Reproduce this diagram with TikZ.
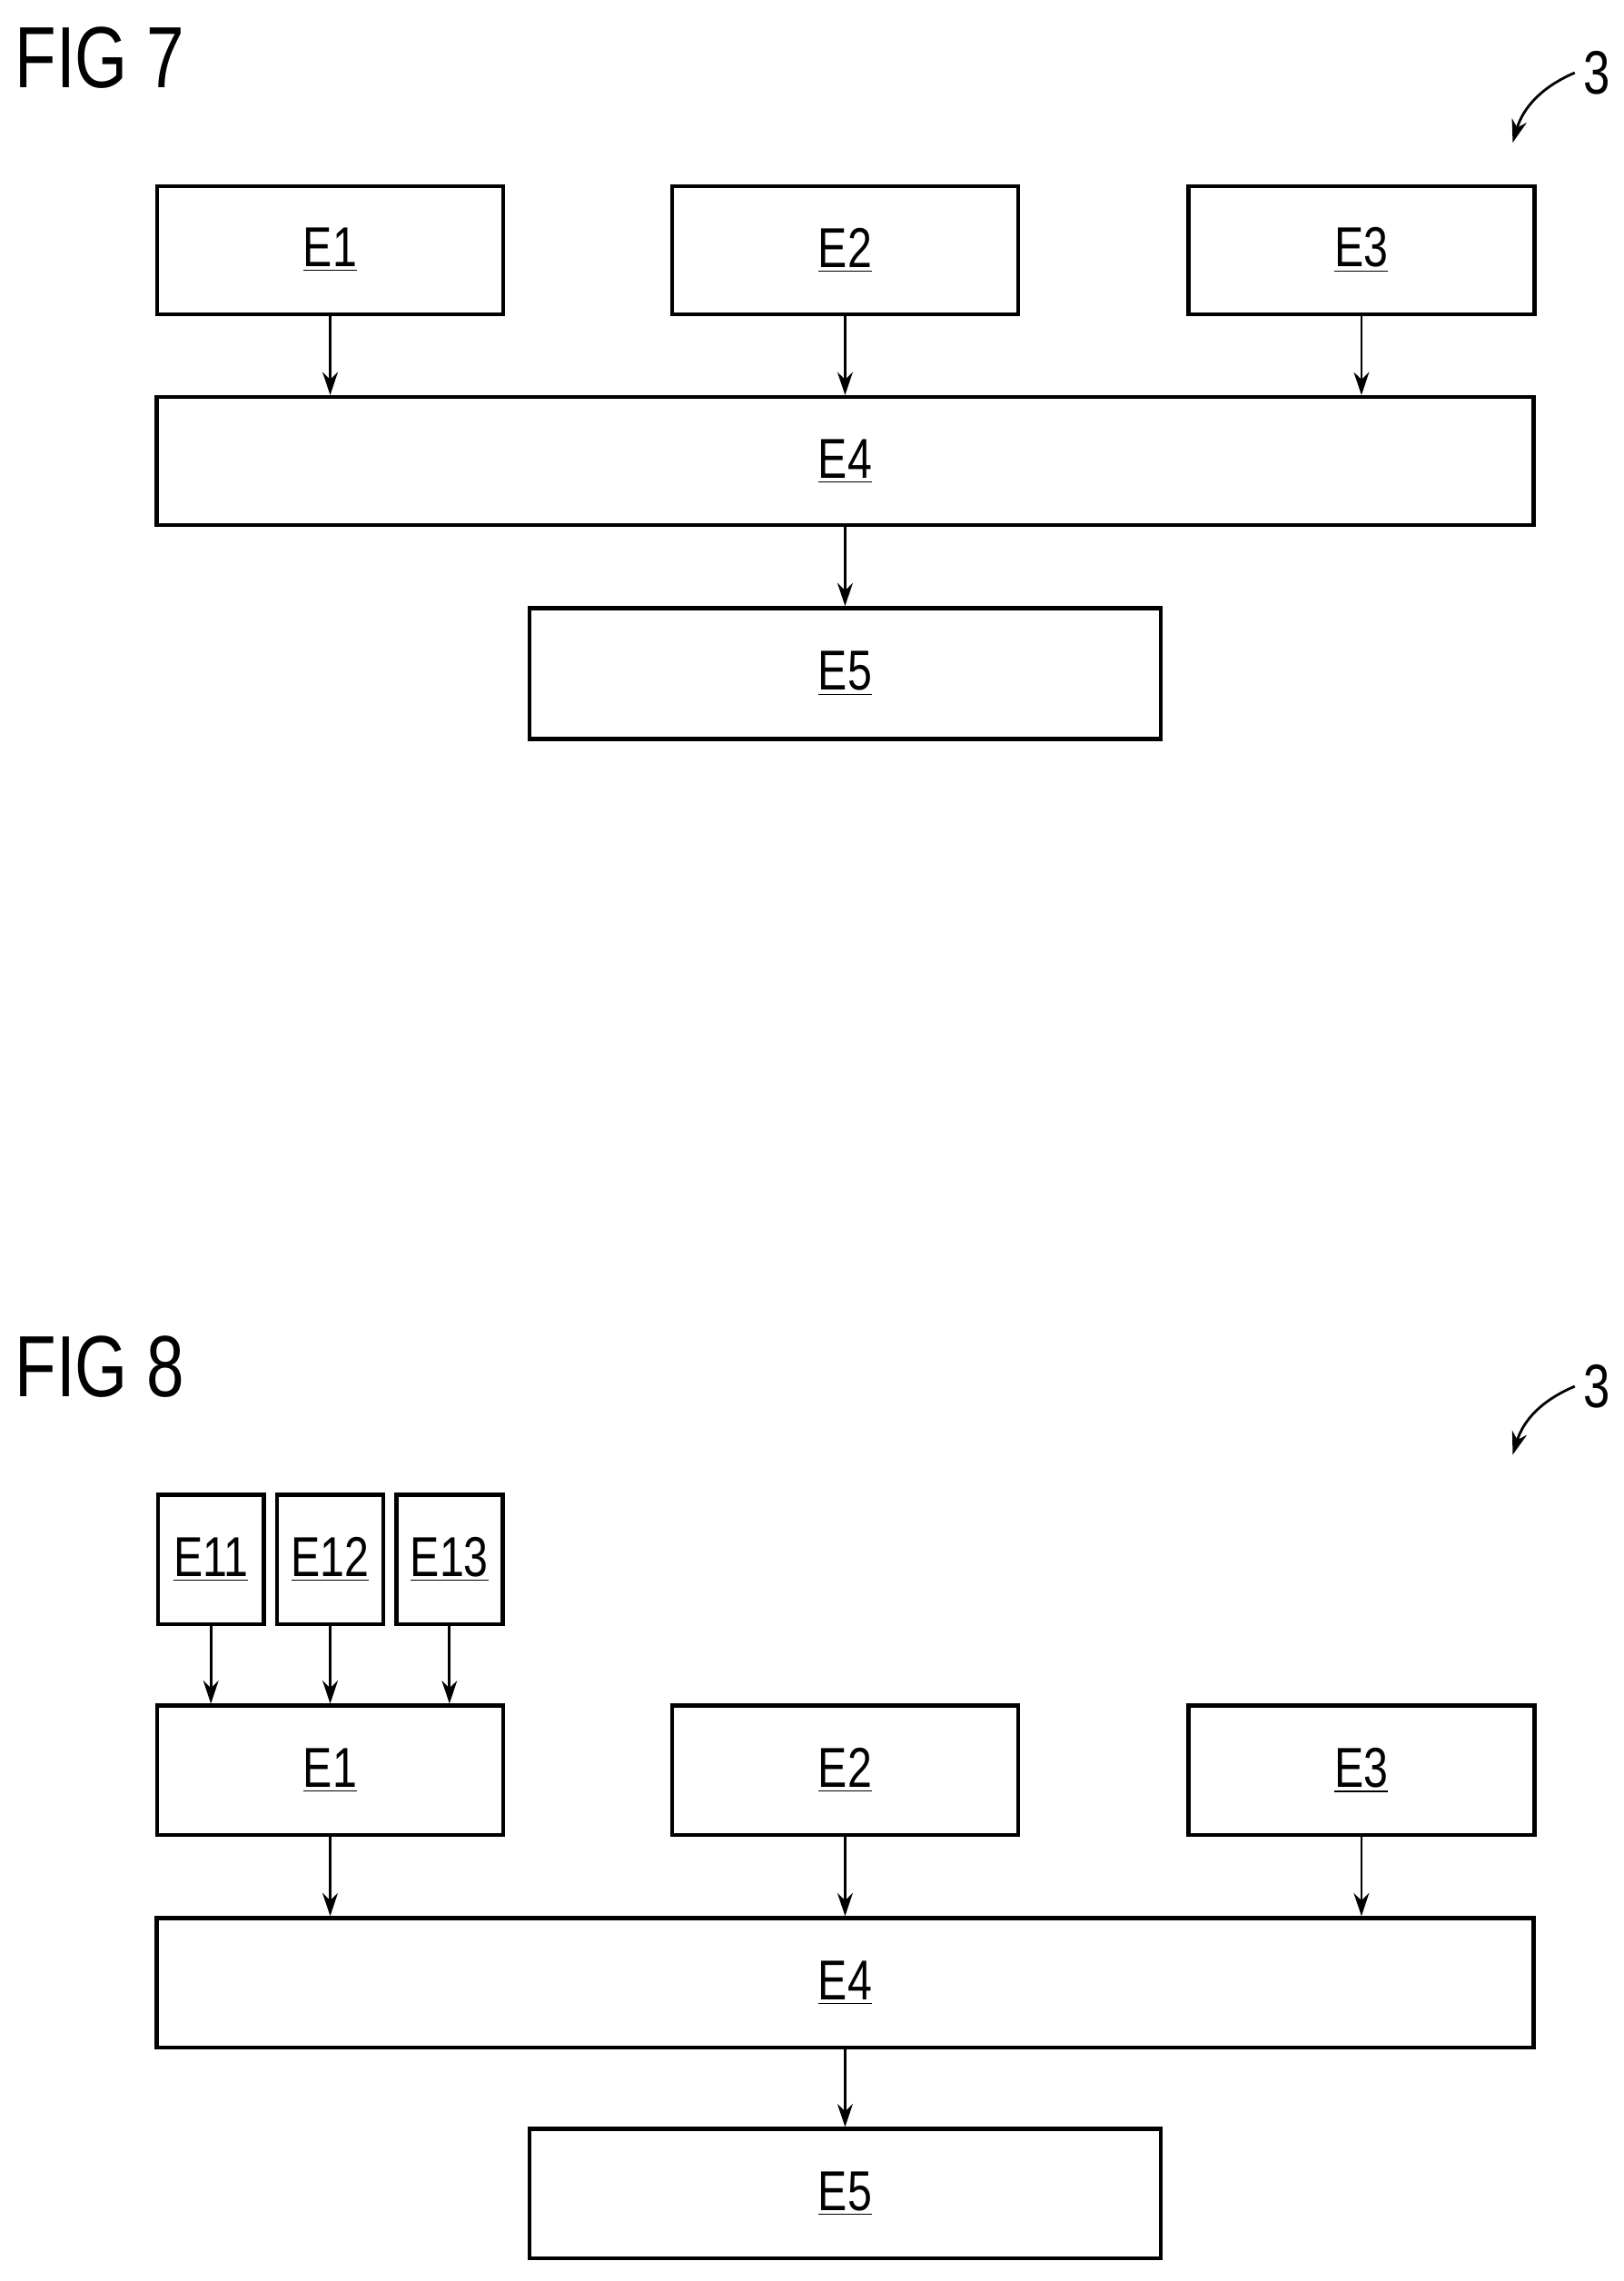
\documentclass[tikz,border=0pt]{standalone}
\usepackage{fontspec}
\setmainfont[FakeStretch=0.78]{Liberation Sans}
\usetikzlibrary{arrows.meta}
\tikzset{
  blk/.style={draw,line width=1.6pt,inner sep=0pt,font=\fontsize{22}{24}\selectfont},
  flow/.style={-{Stealth[length=9pt,width=6pt]},line width=1pt},
  figlbl/.style={anchor=north west,inner sep=0pt,font=\fontsize{34}{36}\selectfont}
}
\begin{document}
\begin{tikzpicture}[x=0.02cm,y=-0.02cm]
\useasboundingbox (0,0) rectangle (1116,1568);
% FIG 7
\node[figlbl] (f7) at (10,18) {FIG 7};
\node[font=\fontsize{24}{26}\selectfont] (r7) at (1098,50) {3};
\draw[flow] (r7.west) to[bend right=25] (1040,98);
\node[blk,minimum width=4.76cm,minimum height=1.76cm] (a1) at (227,172) {\underline{E1}};
\node[blk,minimum width=4.76cm,minimum height=1.76cm] (a2) at (581,172) {\underline{E2}};
\node[blk,minimum width=4.76cm,minimum height=1.76cm] (a3) at (936,172) {\underline{E3}};
\node[blk,minimum width=18.94cm,minimum height=1.76cm] (a4) at (581,317) {\underline{E4}};
\node[blk,minimum width=8.68cm,minimum height=1.8cm] (a5) at (581,463) {\underline{E5}};
\draw[flow] (a1) -- (a1 |- a4.north);
\draw[flow] (a2) -- (a2 |- a4.north);
\draw[flow] (a3) -- (a3 |- a4.north);
\draw[flow] (a4) -- (a5);
% FIG 8
\node[figlbl] (f8) at (10,918) {FIG 8};
\node[font=\fontsize{24}{26}\selectfont] (r8) at (1098,953) {3};
\draw[flow] (r8.west) to[bend right=25] (1040,1000);
\foreach \n/\x in {11/145,12/227,13/309}
  \node[blk,minimum width=1.46cm,minimum height=1.78cm] (b\n) at (\x,1072) {\underline{E\n}};
\node[blk,minimum width=4.76cm,minimum height=1.78cm] (b1) at (227,1217) {\underline{E1}};
\node[blk,minimum width=4.76cm,minimum height=1.78cm] (b2) at (581,1217) {\underline{E2}};
\node[blk,minimum width=4.76cm,minimum height=1.78cm] (b3) at (936,1217) {\underline{E3}};
\node[blk,minimum width=18.94cm,minimum height=1.78cm] (b4) at (581,1363) {\underline{E4}};
\node[blk,minimum width=8.68cm,minimum height=1.78cm] (b5) at (581,1508) {\underline{E5}};
\foreach \n in {11,12,13}
  \draw[flow] (b\n) -- (b\n |- b1.north);
\draw[flow] (b1) -- (b1 |- b4.north);
\draw[flow] (b2) -- (b2 |- b4.north);
\draw[flow] (b3) -- (b3 |- b4.north);
\draw[flow] (b4) -- (b5);
\end{tikzpicture}
\end{document}
